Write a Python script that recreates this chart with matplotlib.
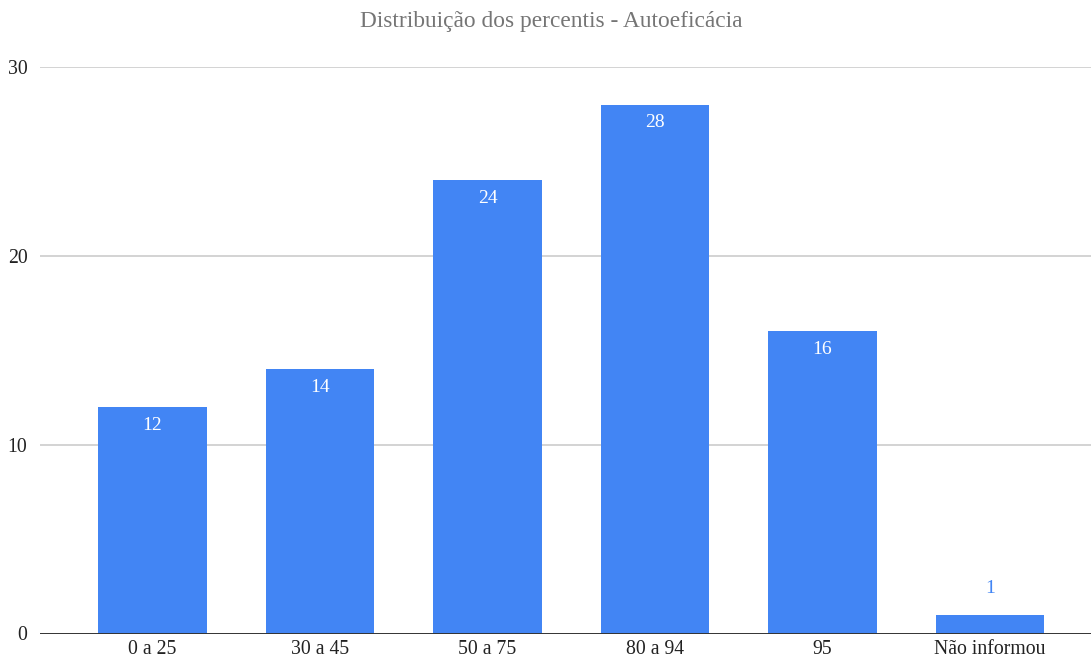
import matplotlib.pyplot as plt

categorias = ['0 a 25', '30 a 45', '50 a 75', '80 a 94', '95', 'Não informou']
contagens = [12, 14, 24, 28, 16, 1]
ticks_y = [0, 10, 20, 30]

azul = '#4285f4'
plt.rcParams['font.family'] = ['Liberation Serif', 'DejaVu Serif']

fig = plt.figure(figsize=(10.91, 6.62), dpi=100)
ax = fig.add_axes([40 / 1091, 1 - 633.5 / 662, 1 - 40 / 1091, (633.5 - 67) / 662])

x = range(len(categorias))
barras = ax.bar(x, contagens, width=0.65, color=azul, zorder=3)

for t in ticks_y[1:]:
    ax.axhline(t, color='#cccccc', lw=1.2, zorder=1)
ax.axhline(0, color='#333333', lw=1.4, zorder=4)

for b, v in zip(barras, contagens):
    cx = b.get_x() + b.get_width() / 2
    if v >= 3:
        ax.annotate(str(v), (cx, v), xytext=(0, -7), textcoords='offset points',
                    ha='center', va='top', color='white', fontsize=14)
    else:
        ax.annotate(str(v), (cx, v), xytext=(0, 13), textcoords='offset points',
                    ha='center', va='bottom', color=azul, fontsize=14)

ax.set_xlim(-0.672, 5.603)
ax.set_ylim(0, 30)
ax.set_xticks(list(x))
ax.set_xticklabels(categorias, fontsize=14.2, color='#222222')
ax.set_yticks(ticks_y)
ax.set_yticklabels([str(t) for t in ticks_y], fontsize=14.2, color='#222222')
ax.tick_params(length=0, pad=5)
ax.tick_params(axis='y', pad=9)
for s in ax.spines.values():
    s.set_visible(False)

fig.text(551 / 1091, 1 - 21 / 662, 'Distribuição dos percentis - Autoeficácia',
         ha='center', va='center', fontsize=16.8, color='#757575')

fig.savefig('out.png', dpi=100)
